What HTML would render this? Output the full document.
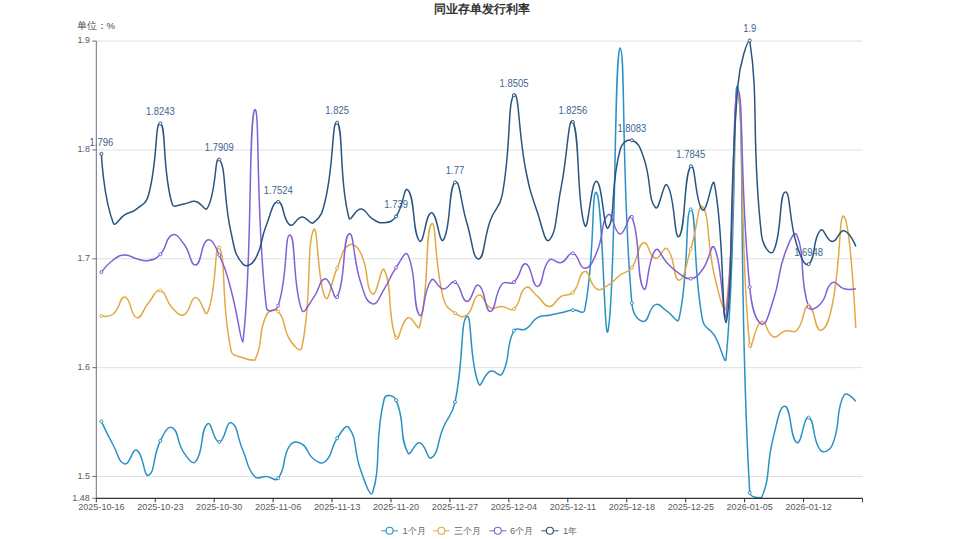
<!DOCTYPE html>
<html><head><meta charset="utf-8">
<style>
html,body{margin:0;padding:0;background:#fff;}
body{width:958px;height:539px;overflow:hidden;position:relative;font-family:"Liberation Sans",sans-serif;}
svg{position:absolute;left:0;top:0;}
.xl{font-size:9.3px;fill:#5a5a5a;}
.yl{font-size:9px;fill:#5a5a5a;}
.dl{font-size:10.3px;fill:#3b6591;}
.tt{font-size:12px;font-weight:bold;fill:#333;}
.un{font-size:9.5px;fill:#444;}
.lg{font-size:9.4px;fill:#666;}
</style></head><body>
<svg width="958" height="539" viewBox="0 0 958 539">
<text x="482" y="13" text-anchor="middle" class="tt">同业存单发行利率</text>
<text x="76.5" y="29" class="un">单位：%</text>
<line x1="96.3" y1="476.53" x2="862.5" y2="476.53" stroke="#e0e0e0" stroke-width="1"/>
<line x1="96.3" y1="367.67" x2="862.5" y2="367.67" stroke="#e0e0e0" stroke-width="1"/>
<line x1="96.3" y1="258.81" x2="862.5" y2="258.81" stroke="#e0e0e0" stroke-width="1"/>
<line x1="96.3" y1="149.96" x2="862.5" y2="149.96" stroke="#e0e0e0" stroke-width="1"/>
<line x1="96.3" y1="41.10" x2="862.5" y2="41.10" stroke="#e0e0e0" stroke-width="1"/>
<line x1="96.3" y1="41.1" x2="96.3" y2="498.3" stroke="#6e7079" stroke-width="1"/>
<line x1="92.3" y1="498.30" x2="96.3" y2="498.30" stroke="#6e7079" stroke-width="1"/>
<line x1="92.3" y1="476.53" x2="96.3" y2="476.53" stroke="#6e7079" stroke-width="1"/>
<line x1="92.3" y1="367.67" x2="96.3" y2="367.67" stroke="#6e7079" stroke-width="1"/>
<line x1="92.3" y1="258.81" x2="96.3" y2="258.81" stroke="#6e7079" stroke-width="1"/>
<line x1="92.3" y1="149.96" x2="96.3" y2="149.96" stroke="#6e7079" stroke-width="1"/>
<line x1="92.3" y1="41.10" x2="96.3" y2="41.10" stroke="#6e7079" stroke-width="1"/>
<path d="M101.39,421.40 C101.39,421.40 106.80,433.47 113.18,445.00 C118.59,454.77 118.46,462.56 124.97,464.00 C130.25,465.16 132.09,447.96 136.76,450.20 C143.88,453.61 143.44,477.31 148.54,475.30 C155.23,472.66 152.41,456.92 160.33,440.90 C164.20,433.07 167.52,425.30 172.12,427.60 C179.30,431.20 176.21,441.63 183.91,452.70 C187.99,458.58 192.49,465.41 195.70,461.50 C204.28,451.01 199.86,430.24 207.48,423.90 C211.65,420.44 213.52,442.22 219.27,441.90 C225.31,441.57 225.99,420.82 231.06,422.60 C237.78,424.97 236.83,436.45 242.85,450.20 C248.62,463.40 246.27,467.17 254.63,476.50 C258.06,480.32 260.56,476.05 266.42,476.50 C272.35,476.95 275.22,482.27 278.21,478.30 C287.01,466.62 281.18,458.06 290.00,445.20 C292.97,440.86 297.28,441.26 301.78,443.90 C309.07,448.16 306.34,453.60 313.57,459.00 C318.12,462.40 321.64,464.78 325.36,461.50 C333.43,454.38 329.80,448.73 337.15,438.20 C341.59,431.83 345.83,423.48 348.94,427.70 C357.62,439.53 353.26,449.62 360.72,470.30 C365.04,482.27 370.02,497.80 372.51,493.00 C381.80,464.70 373.82,439.79 384.30,398.50 C385.61,393.34 393.96,395.20 396.09,400.10 C405.75,422.35 398.72,436.26 407.87,452.80 C410.51,457.56 414.39,441.58 419.66,442.70 C426.17,444.08 427.06,460.59 431.45,457.80 C438.85,453.09 436.94,442.58 443.24,427.70 C448.73,414.73 452.13,415.78 455.02,402.10 C463.92,360.13 460.23,321.51 466.81,316.40 C472.02,312.36 469.18,361.86 478.60,383.80 C480.97,389.31 483.46,374.24 490.39,371.30 C495.25,369.24 499.67,378.11 502.18,373.80 C511.46,357.81 504.66,348.39 513.96,330.70 C516.44,325.99 520.78,331.74 525.75,329.00 C532.57,325.24 530.76,321.67 537.54,317.70 C542.54,314.77 543.43,316.45 549.33,315.20 C555.22,313.95 555.23,313.97 561.11,312.70 C567.01,311.42 566.94,310.76 572.90,310.10 C578.73,309.46 583.62,315.43 584.69,310.10 C595.41,256.68 591.03,188.07 596.48,192.60 C602.82,197.87 604.40,353.41 608.26,329.70 C616.19,281.11 613.87,54.98 620.05,48.00 C625.65,48.00 620.98,177.14 631.84,303.10 C632.77,313.84 637.56,321.01 643.63,321.40 C649.35,321.76 648.33,307.61 655.42,304.60 C660.12,302.61 661.39,307.87 667.20,311.40 C673.17,315.02 677.66,324.64 678.99,318.90 C689.45,273.64 684.92,209.08 690.78,209.40 C696.71,209.73 692.50,266.49 702.57,320.20 C704.29,329.39 709.31,327.15 714.35,335.20 C721.10,345.95 725.12,368.45 726.14,357.80 C736.91,245.35 733.22,62.03 737.93,89.00 C745.00,129.48 738.29,294.60 749.72,492.70 C750.08,497.80 759.46,497.80 761.50,497.80 C771.25,475.02 765.66,467.21 773.29,437.60 C777.45,421.46 779.57,405.13 785.08,406.30 C791.36,407.63 790.03,439.32 796.87,442.60 C801.82,444.97 803.43,415.91 808.66,417.60 C815.21,419.71 811.83,440.12 820.44,450.20 C823.62,453.92 829.89,450.69 832.23,445.20 C841.67,423.09 834.66,412.43 844.02,395.00 C846.44,390.48 855.81,401.30 855.81,401.30" fill="none" stroke="#2b91c5" stroke-width="1.5" stroke-linejoin="round"/>
<path d="M101.39,316.00 C101.39,316.00 108.86,317.48 113.18,314.00 C120.65,307.98 119.49,296.14 124.97,297.00 C131.28,297.99 130.21,316.12 136.76,317.70 C142.00,318.97 142.29,309.89 148.54,302.70 C154.08,296.34 155.05,289.48 160.33,290.60 C166.83,291.98 165.02,300.44 172.12,307.70 C176.81,312.49 179.22,316.71 183.91,314.70 C191.01,311.66 189.56,298.12 195.70,297.60 C201.35,297.12 204.84,318.32 207.48,312.70 C216.63,293.27 214.67,240.16 219.27,247.50 C226.46,258.96 220.67,301.71 231.06,350.30 C232.46,356.86 236.52,355.12 242.85,357.80 C248.30,360.12 252.21,360.30 254.63,360.30 C264.00,343.38 257.11,334.52 266.42,315.20 C268.90,310.07 274.84,307.85 278.21,311.40 C286.63,320.25 281.91,327.51 290.00,340.00 C293.69,345.71 300.53,353.67 301.78,347.80 C312.32,298.67 306.11,245.89 313.57,230.00 C317.90,220.79 317.30,284.58 325.36,297.60 C329.09,303.63 330.66,282.58 337.15,268.10 C342.45,256.28 341.33,249.87 348.94,245.00 C353.11,242.32 357.77,246.87 360.72,253.00 C369.55,271.32 365.26,288.67 372.51,293.90 C377.05,297.17 381.00,263.88 384.30,270.00 C392.79,285.78 387.28,319.87 396.09,337.70 C399.06,343.72 400.66,321.13 407.87,317.70 C412.45,315.53 418.19,332.35 419.66,326.50 C429.98,285.50 424.61,232.39 431.45,224.00 C436.39,217.94 433.90,262.27 443.24,297.60 C445.69,306.87 447.71,307.74 455.02,313.20 C459.50,316.54 462.82,318.27 466.81,315.20 C474.60,309.22 471.83,297.25 478.60,295.10 C483.62,293.50 483.40,304.35 490.39,307.70 C495.19,310.00 496.33,306.10 502.18,306.40 C508.12,306.70 510.06,312.01 513.96,308.90 C521.85,302.61 518.40,291.50 525.75,287.60 C530.19,285.25 531.79,291.82 537.54,296.40 C543.58,301.22 543.43,306.40 549.33,306.40 C555.22,306.40 554.57,300.23 561.11,296.40 C566.36,293.33 568.92,296.83 572.90,292.60 C580.70,284.33 578.37,272.42 584.69,271.40 C590.16,270.52 589.05,284.49 596.48,288.80 C600.84,291.34 603.03,288.14 608.26,285.10 C614.82,281.29 613.86,279.70 620.05,275.10 C625.65,270.95 627.87,273.05 631.84,267.60 C639.66,256.85 636.73,245.42 643.63,242.70 C648.52,240.77 648.77,256.58 655.42,258.30 C660.56,259.63 663.54,245.39 667.20,248.80 C675.32,256.34 673.09,280.17 678.99,280.20 C684.88,280.22 685.67,264.81 690.78,248.90 C697.46,228.11 698.01,201.73 702.57,206.80 C709.79,214.83 706.42,241.50 714.35,275.10 C718.21,291.45 724.54,319.11 726.14,306.70 C736.33,227.56 732.52,92.00 737.93,92.00 C744.31,102.44 739.05,241.51 749.72,345.30 C750.84,356.21 754.68,323.86 761.50,321.40 C766.47,319.61 766.26,333.94 773.29,336.80 C778.05,338.74 778.87,332.74 785.08,331.00 C790.66,329.44 793.31,334.04 796.87,330.20 C805.09,321.34 802.76,305.60 808.66,305.60 C814.55,305.60 814.60,330.32 820.44,330.20 C826.39,330.07 829.44,318.56 832.23,305.10 C841.23,261.66 838.79,211.28 844.02,216.40 C850.58,222.83 855.81,328.20 855.81,328.20" fill="none" stroke="#e2a844" stroke-width="1.5" stroke-linejoin="round"/>
<path d="M101.39,272.10 C101.39,272.10 106.48,264.86 113.18,260.00 C118.26,256.31 118.98,255.30 124.97,255.00 C130.76,254.70 130.75,257.40 136.76,258.80 C142.54,260.15 142.98,261.56 148.54,260.50 C154.77,259.31 155.96,259.03 160.33,254.30 C167.75,246.28 165.00,238.11 172.12,235.00 C176.79,232.96 179.42,238.28 183.91,244.00 C191.20,253.28 190.21,265.93 195.70,265.00 C201.99,263.93 200.51,242.96 207.48,240.00 C212.30,237.96 215.26,246.48 219.27,255.00 C227.04,271.48 226.23,272.20 231.06,290.00 C238.02,315.70 240.65,342.00 242.85,342.00 C252.43,268.80 248.27,119.26 254.63,110.00 C260.06,102.11 255.30,215.42 266.42,307.70 C267.09,313.27 276.52,310.90 278.21,305.70 C288.31,274.55 284.27,233.96 290.00,235.00 C296.06,236.11 292.16,284.46 301.78,310.00 C303.95,315.76 308.44,304.39 313.57,297.60 C320.23,288.79 319.41,278.93 325.36,278.80 C331.20,278.68 334.16,302.77 337.15,297.10 C345.95,280.37 342.31,238.08 348.94,234.00 C354.10,230.83 352.79,259.09 360.72,282.60 C364.58,294.04 365.90,302.13 372.51,303.90 C377.69,305.28 379.12,296.87 384.30,288.90 C390.91,278.72 389.19,277.52 396.09,267.60 C400.98,260.57 405.29,249.78 407.87,255.00 C417.07,273.58 412.31,307.37 419.66,315.20 C424.10,319.92 423.01,289.51 431.45,280.10 C434.80,276.36 437.11,288.38 443.24,288.90 C448.90,289.38 450.60,279.75 455.02,282.10 C462.38,286.00 460.57,300.61 466.81,301.40 C472.36,302.11 473.75,283.04 478.60,285.10 C485.54,288.04 484.60,311.69 490.39,311.40 C496.39,311.09 493.75,294.38 502.18,283.90 C505.53,279.73 509.79,285.66 513.96,282.10 C521.58,275.61 520.32,262.81 525.75,263.80 C532.11,264.96 532.02,287.29 537.54,286.40 C543.80,285.39 541.01,268.40 549.33,260.00 C552.80,256.50 555.86,264.09 561.11,262.60 C567.65,260.74 567.71,252.04 572.90,253.30 C579.50,254.89 578.83,268.37 584.69,268.30 C590.62,268.22 592.64,261.72 596.48,253.00 C604.43,234.92 600.72,220.81 608.26,214.70 C612.51,211.26 613.91,233.33 620.05,233.90 C625.69,234.43 629.23,210.83 631.84,216.90 C641.02,238.28 636.05,278.17 643.63,288.80 C647.84,294.72 647.19,259.00 655.42,250.00 C658.98,246.10 660.97,256.84 667.20,263.00 C672.76,268.49 672.54,269.01 678.99,273.30 C684.33,276.86 685.30,279.58 690.78,278.70 C697.09,277.68 698.14,275.34 702.57,269.50 C709.93,259.79 711.21,241.54 714.35,247.60 C723.00,264.29 723.40,333.36 726.14,315.00 C735.18,254.56 731.65,97.43 737.93,90.00 C743.43,90.00 739.86,189.29 749.72,287.10 C751.65,306.29 754.52,320.15 761.50,324.00 C766.31,326.65 769.12,312.68 773.29,300.10 C780.90,277.18 776.89,275.54 785.08,253.00 C788.68,243.09 794.20,229.07 796.87,235.20 C805.98,256.12 798.56,277.68 808.66,307.10 C810.35,312.03 816.50,307.99 820.44,303.90 C828.29,295.74 824.61,287.48 832.23,282.60 C836.40,279.93 837.77,287.16 844.02,288.80 C849.55,290.26 855.81,288.80 855.81,288.80" fill="none" stroke="#8060d6" stroke-width="1.5" stroke-linejoin="round"/>
<path d="M101.39,153.80 C101.39,153.80 103.39,197.41 113.18,222.70 C115.18,227.86 118.84,218.29 124.97,214.70 C130.62,211.39 131.82,213.03 136.76,208.90 C143.61,203.18 146.18,203.58 148.54,195.00 C157.96,160.88 154.78,121.40 160.33,123.50 C166.56,125.85 161.83,168.79 172.12,203.90 C173.61,208.99 178.08,204.52 183.91,203.90 C189.87,203.27 190.14,200.43 195.70,201.40 C201.93,202.48 204.97,212.46 207.48,208.00 C216.76,191.51 214.53,154.53 219.27,159.50 C226.32,166.88 222.94,196.69 231.06,232.70 C234.72,248.94 234.26,254.05 242.85,264.00 C246.04,267.70 251.66,264.92 254.63,260.00 C263.45,245.42 259.51,242.07 266.42,225.00 C271.29,212.97 272.32,201.80 278.21,201.80 C284.10,201.80 282.38,220.09 290.00,225.00 C294.17,227.69 295.64,217.60 301.78,217.00 C307.43,216.45 309.58,225.58 313.57,222.70 C321.37,217.08 322.45,212.32 325.36,200.00 C334.24,162.32 331.85,118.72 337.15,122.70 C343.64,127.57 338.72,180.34 348.94,217.70 C350.51,223.44 354.98,208.61 360.72,208.90 C366.76,209.21 365.97,215.07 372.51,218.90 C377.75,221.97 378.63,223.30 384.30,222.70 C390.42,222.05 392.35,221.56 396.09,216.40 C404.14,205.26 403.68,185.73 407.87,190.10 C415.47,198.03 412.23,233.88 419.66,241.00 C424.02,245.18 425.47,212.95 431.45,212.70 C437.25,212.45 439.28,245.09 443.24,240.00 C451.07,229.94 448.15,187.45 455.02,182.40 C459.94,178.80 460.64,202.64 466.81,222.70 C472.43,240.94 472.88,259.61 478.60,259.00 C484.67,258.36 483.39,239.17 490.39,220.20 C495.17,207.22 499.63,208.61 502.18,195.10 C511.42,146.01 507.24,102.16 513.96,95.00 C519.03,89.61 518.31,132.83 525.75,170.00 C530.09,191.68 530.49,191.76 537.54,212.70 C542.27,226.76 545.13,244.47 549.33,240.00 C556.91,231.92 555.85,213.93 561.11,187.60 C567.64,154.93 568.29,114.65 572.90,122.00 C580.08,133.45 576.49,204.58 584.69,225.20 C588.28,234.23 590.74,180.69 596.48,181.30 C602.52,181.94 603.80,233.62 608.26,227.70 C615.59,217.97 610.18,186.59 620.05,150.00 C621.97,142.89 626.86,138.71 631.84,140.30 C638.65,142.46 640.23,147.80 643.63,157.50 C652.02,181.45 647.52,198.36 655.42,207.60 C659.31,212.16 663.37,180.40 667.20,185.10 C675.16,194.85 673.97,240.50 678.99,236.50 C685.76,231.10 683.57,174.40 690.78,166.30 C695.36,161.15 695.36,204.65 702.57,210.00 C707.14,213.40 712.34,174.18 714.35,183.80 C724.12,230.43 721.79,322.50 726.14,322.50 C733.58,291.34 728.05,203.13 737.93,85.00 C739.84,62.13 747.47,40.50 749.72,40.50 C759.25,101.26 750.82,139.56 761.50,235.20 C762.61,245.06 770.35,256.87 773.29,251.50 C782.14,235.32 778.87,193.76 785.08,192.10 C790.66,190.61 788.50,219.66 796.87,245.20 C800.29,255.66 804.14,266.97 808.66,264.10 C815.93,259.47 812.34,237.97 820.44,230.20 C824.13,226.67 826.27,241.37 832.23,241.50 C838.06,241.62 838.74,229.58 844.02,230.70 C850.53,232.08 855.81,246.50 855.81,246.50" fill="none" stroke="#275580" stroke-width="1.5" stroke-linejoin="round"/>
<circle cx="101.39" cy="421.40" r="1.5" fill="#fff" stroke="#2b91c5" stroke-width="1"/>
<circle cx="160.33" cy="440.90" r="1.5" fill="#fff" stroke="#2b91c5" stroke-width="1"/>
<circle cx="219.27" cy="441.90" r="1.5" fill="#fff" stroke="#2b91c5" stroke-width="1"/>
<circle cx="278.21" cy="478.30" r="1.5" fill="#fff" stroke="#2b91c5" stroke-width="1"/>
<circle cx="337.15" cy="438.20" r="1.5" fill="#fff" stroke="#2b91c5" stroke-width="1"/>
<circle cx="396.09" cy="400.10" r="1.5" fill="#fff" stroke="#2b91c5" stroke-width="1"/>
<circle cx="455.02" cy="402.10" r="1.5" fill="#fff" stroke="#2b91c5" stroke-width="1"/>
<circle cx="513.96" cy="330.70" r="1.5" fill="#fff" stroke="#2b91c5" stroke-width="1"/>
<circle cx="572.90" cy="310.10" r="1.5" fill="#fff" stroke="#2b91c5" stroke-width="1"/>
<circle cx="631.84" cy="303.10" r="1.5" fill="#fff" stroke="#2b91c5" stroke-width="1"/>
<circle cx="690.78" cy="209.40" r="1.5" fill="#fff" stroke="#2b91c5" stroke-width="1"/>
<circle cx="749.72" cy="492.70" r="1.5" fill="#fff" stroke="#2b91c5" stroke-width="1"/>
<circle cx="808.66" cy="417.60" r="1.5" fill="#fff" stroke="#2b91c5" stroke-width="1"/>
<circle cx="101.39" cy="316.00" r="1.5" fill="#fff" stroke="#e2a844" stroke-width="1"/>
<circle cx="160.33" cy="290.60" r="1.5" fill="#fff" stroke="#e2a844" stroke-width="1"/>
<circle cx="219.27" cy="247.50" r="1.5" fill="#fff" stroke="#e2a844" stroke-width="1"/>
<circle cx="278.21" cy="311.40" r="1.5" fill="#fff" stroke="#e2a844" stroke-width="1"/>
<circle cx="337.15" cy="268.10" r="1.5" fill="#fff" stroke="#e2a844" stroke-width="1"/>
<circle cx="396.09" cy="337.70" r="1.5" fill="#fff" stroke="#e2a844" stroke-width="1"/>
<circle cx="455.02" cy="313.20" r="1.5" fill="#fff" stroke="#e2a844" stroke-width="1"/>
<circle cx="513.96" cy="308.90" r="1.5" fill="#fff" stroke="#e2a844" stroke-width="1"/>
<circle cx="572.90" cy="292.60" r="1.5" fill="#fff" stroke="#e2a844" stroke-width="1"/>
<circle cx="631.84" cy="267.60" r="1.5" fill="#fff" stroke="#e2a844" stroke-width="1"/>
<circle cx="690.78" cy="248.90" r="1.5" fill="#fff" stroke="#e2a844" stroke-width="1"/>
<circle cx="749.72" cy="345.30" r="1.5" fill="#fff" stroke="#e2a844" stroke-width="1"/>
<circle cx="808.66" cy="305.60" r="1.5" fill="#fff" stroke="#e2a844" stroke-width="1"/>
<circle cx="101.39" cy="272.10" r="1.5" fill="#fff" stroke="#8060d6" stroke-width="1"/>
<circle cx="160.33" cy="254.30" r="1.5" fill="#fff" stroke="#8060d6" stroke-width="1"/>
<circle cx="219.27" cy="255.00" r="1.5" fill="#fff" stroke="#8060d6" stroke-width="1"/>
<circle cx="278.21" cy="305.70" r="1.5" fill="#fff" stroke="#8060d6" stroke-width="1"/>
<circle cx="337.15" cy="297.10" r="1.5" fill="#fff" stroke="#8060d6" stroke-width="1"/>
<circle cx="396.09" cy="267.60" r="1.5" fill="#fff" stroke="#8060d6" stroke-width="1"/>
<circle cx="455.02" cy="282.10" r="1.5" fill="#fff" stroke="#8060d6" stroke-width="1"/>
<circle cx="513.96" cy="282.10" r="1.5" fill="#fff" stroke="#8060d6" stroke-width="1"/>
<circle cx="572.90" cy="253.30" r="1.5" fill="#fff" stroke="#8060d6" stroke-width="1"/>
<circle cx="631.84" cy="216.90" r="1.5" fill="#fff" stroke="#8060d6" stroke-width="1"/>
<circle cx="690.78" cy="278.70" r="1.5" fill="#fff" stroke="#8060d6" stroke-width="1"/>
<circle cx="749.72" cy="287.10" r="1.5" fill="#fff" stroke="#8060d6" stroke-width="1"/>
<circle cx="808.66" cy="307.10" r="1.5" fill="#fff" stroke="#8060d6" stroke-width="1"/>
<circle cx="101.39" cy="153.80" r="1.5" fill="#fff" stroke="#275580" stroke-width="1"/>
<circle cx="160.33" cy="123.50" r="1.5" fill="#fff" stroke="#275580" stroke-width="1"/>
<circle cx="219.27" cy="159.50" r="1.5" fill="#fff" stroke="#275580" stroke-width="1"/>
<circle cx="278.21" cy="201.80" r="1.5" fill="#fff" stroke="#275580" stroke-width="1"/>
<circle cx="337.15" cy="122.70" r="1.5" fill="#fff" stroke="#275580" stroke-width="1"/>
<circle cx="396.09" cy="216.40" r="1.5" fill="#fff" stroke="#275580" stroke-width="1"/>
<circle cx="455.02" cy="182.40" r="1.5" fill="#fff" stroke="#275580" stroke-width="1"/>
<circle cx="513.96" cy="95.00" r="1.5" fill="#fff" stroke="#275580" stroke-width="1"/>
<circle cx="572.90" cy="122.00" r="1.5" fill="#fff" stroke="#275580" stroke-width="1"/>
<circle cx="631.84" cy="140.30" r="1.5" fill="#fff" stroke="#275580" stroke-width="1"/>
<circle cx="690.78" cy="166.30" r="1.5" fill="#fff" stroke="#275580" stroke-width="1"/>
<circle cx="749.72" cy="40.50" r="1.5" fill="#fff" stroke="#275580" stroke-width="1"/>
<circle cx="808.66" cy="264.10" r="1.5" fill="#fff" stroke="#275580" stroke-width="1"/>
<line x1="96.3" y1="498.3" x2="862.5" y2="498.3" stroke="#333" stroke-width="1.2"/>
<line x1="96.30" y1="498.3" x2="96.30" y2="502.3" stroke="#333" stroke-width="1"/>
<line x1="155.24" y1="498.3" x2="155.24" y2="502.3" stroke="#333" stroke-width="1"/>
<line x1="214.18" y1="498.3" x2="214.18" y2="502.3" stroke="#333" stroke-width="1"/>
<line x1="273.12" y1="498.3" x2="273.12" y2="502.3" stroke="#333" stroke-width="1"/>
<line x1="332.05" y1="498.3" x2="332.05" y2="502.3" stroke="#333" stroke-width="1"/>
<line x1="390.99" y1="498.3" x2="390.99" y2="502.3" stroke="#333" stroke-width="1"/>
<line x1="449.93" y1="498.3" x2="449.93" y2="502.3" stroke="#333" stroke-width="1"/>
<line x1="508.87" y1="498.3" x2="508.87" y2="502.3" stroke="#333" stroke-width="1"/>
<line x1="567.81" y1="498.3" x2="567.81" y2="502.3" stroke="#333" stroke-width="1"/>
<line x1="626.75" y1="498.3" x2="626.75" y2="502.3" stroke="#333" stroke-width="1"/>
<line x1="685.68" y1="498.3" x2="685.68" y2="502.3" stroke="#333" stroke-width="1"/>
<line x1="744.62" y1="498.3" x2="744.62" y2="502.3" stroke="#333" stroke-width="1"/>
<line x1="803.56" y1="498.3" x2="803.56" y2="502.3" stroke="#333" stroke-width="1"/>
<line x1="862.50" y1="498.3" x2="862.50" y2="502.3" stroke="#333" stroke-width="1"/>
<text x="101.39" y="509.8" text-anchor="middle" class="xl" textLength="46.3" lengthAdjust="spacingAndGlyphs">2025-10-16</text>
<text x="160.33" y="509.8" text-anchor="middle" class="xl" textLength="46.3" lengthAdjust="spacingAndGlyphs">2025-10-23</text>
<text x="219.27" y="509.8" text-anchor="middle" class="xl" textLength="46.3" lengthAdjust="spacingAndGlyphs">2025-10-30</text>
<text x="278.21" y="509.8" text-anchor="middle" class="xl" textLength="46.3" lengthAdjust="spacingAndGlyphs">2025-11-06</text>
<text x="337.15" y="509.8" text-anchor="middle" class="xl" textLength="46.3" lengthAdjust="spacingAndGlyphs">2025-11-13</text>
<text x="396.09" y="509.8" text-anchor="middle" class="xl" textLength="46.3" lengthAdjust="spacingAndGlyphs">2025-11-20</text>
<text x="455.02" y="509.8" text-anchor="middle" class="xl" textLength="46.3" lengthAdjust="spacingAndGlyphs">2025-11-27</text>
<text x="513.96" y="509.8" text-anchor="middle" class="xl" textLength="46.3" lengthAdjust="spacingAndGlyphs">2025-12-04</text>
<text x="572.90" y="509.8" text-anchor="middle" class="xl" textLength="46.3" lengthAdjust="spacingAndGlyphs">2025-12-11</text>
<text x="631.84" y="509.8" text-anchor="middle" class="xl" textLength="46.3" lengthAdjust="spacingAndGlyphs">2025-12-18</text>
<text x="690.78" y="509.8" text-anchor="middle" class="xl" textLength="46.3" lengthAdjust="spacingAndGlyphs">2025-12-25</text>
<text x="749.72" y="509.8" text-anchor="middle" class="xl" textLength="46.3" lengthAdjust="spacingAndGlyphs">2026-01-05</text>
<text x="808.66" y="509.8" text-anchor="middle" class="xl" textLength="46.3" lengthAdjust="spacingAndGlyphs">2026-01-12</text>
<text x="89.9" y="500.50" text-anchor="end" class="yl" >1.48</text>
<text x="89.9" y="478.73" text-anchor="end" class="yl" >1.5</text>
<text x="89.9" y="369.87" text-anchor="end" class="yl" >1.6</text>
<text x="89.9" y="261.01" text-anchor="end" class="yl" >1.7</text>
<text x="89.9" y="152.16" text-anchor="end" class="yl" >1.8</text>
<text x="89.9" y="43.30" text-anchor="end" class="yl" >1.9</text>
<text x="101.39" y="145.50" text-anchor="middle" class="dl" textLength="23.6" lengthAdjust="spacingAndGlyphs">1.796</text>
<text x="160.33" y="115.20" text-anchor="middle" class="dl" textLength="28.9" lengthAdjust="spacingAndGlyphs">1.8243</text>
<text x="219.27" y="151.20" text-anchor="middle" class="dl" textLength="28.9" lengthAdjust="spacingAndGlyphs">1.7909</text>
<text x="278.21" y="193.50" text-anchor="middle" class="dl" textLength="28.9" lengthAdjust="spacingAndGlyphs">1.7524</text>
<text x="337.15" y="114.40" text-anchor="middle" class="dl" textLength="23.6" lengthAdjust="spacingAndGlyphs">1.825</text>
<text x="396.09" y="208.10" text-anchor="middle" class="dl" textLength="23.6" lengthAdjust="spacingAndGlyphs">1.739</text>
<text x="455.02" y="174.10" text-anchor="middle" class="dl" textLength="18.4" lengthAdjust="spacingAndGlyphs">1.77</text>
<text x="513.96" y="86.70" text-anchor="middle" class="dl" textLength="28.9" lengthAdjust="spacingAndGlyphs">1.8505</text>
<text x="572.90" y="113.70" text-anchor="middle" class="dl" textLength="28.9" lengthAdjust="spacingAndGlyphs">1.8256</text>
<text x="631.84" y="132.00" text-anchor="middle" class="dl" textLength="28.9" lengthAdjust="spacingAndGlyphs">1.8083</text>
<text x="690.78" y="158.00" text-anchor="middle" class="dl" textLength="28.9" lengthAdjust="spacingAndGlyphs">1.7845</text>
<text x="749.72" y="32.20" text-anchor="middle" class="dl" textLength="13.1" lengthAdjust="spacingAndGlyphs">1.9</text>
<text x="808.66" y="255.80" text-anchor="middle" class="dl" textLength="28.9" lengthAdjust="spacingAndGlyphs">1.6948</text>
<g>
<line x1="381.3" y1="530.8" x2="398" y2="530.8" stroke="#2b91c5" stroke-width="1"/><circle cx="389.6" cy="530.8" r="3.5" fill="#fff" stroke="#2b91c5" stroke-width="1.1"/>
<text x="402.6" y="534.4" class="lg">1个月</text>
<line x1="433" y1="530.8" x2="449.6" y2="530.8" stroke="#e2a844" stroke-width="1"/><circle cx="441.4" cy="530.8" r="3.5" fill="#fff" stroke="#e2a844" stroke-width="1.1"/>
<text x="454.2" y="534.4" class="lg">三个月</text>
<line x1="489.2" y1="530.8" x2="506.4" y2="530.8" stroke="#8060d6" stroke-width="1"/><circle cx="497.8" cy="530.8" r="3.5" fill="#fff" stroke="#8060d6" stroke-width="1.1"/>
<text x="510" y="534.4" class="lg">6个月</text>
<line x1="541.3" y1="530.8" x2="558.5" y2="530.8" stroke="#275580" stroke-width="1"/><circle cx="549.9" cy="530.8" r="3.5" fill="#fff" stroke="#275580" stroke-width="1.1"/>
<text x="562.9" y="534.4" class="lg">1年</text>
</g>
</svg>
</body></html>
